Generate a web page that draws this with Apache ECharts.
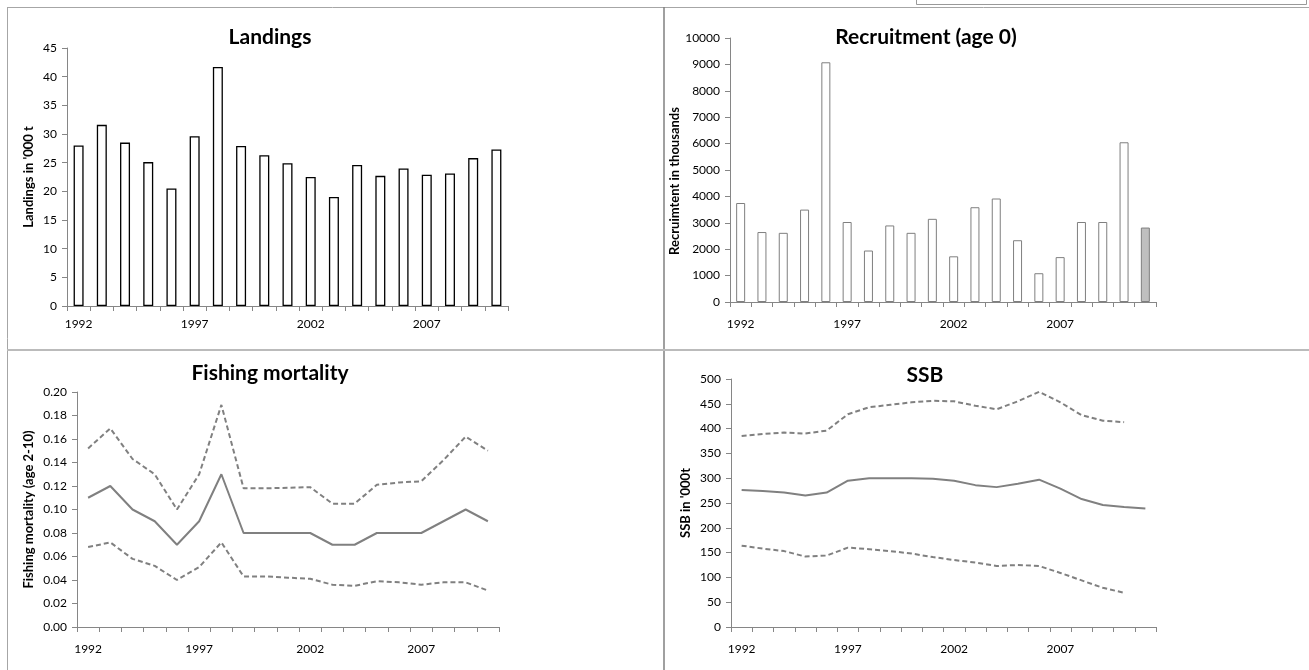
<!DOCTYPE html>
<html>
<head>
<meta charset="utf-8">
<script src="https://cdn.jsdelivr.net/npm/echarts@6/dist/echarts.min.js"></script>
<style>
  html, body { margin: 0; padding: 0; background: #fff; }
  #chart { width: 1309px; height: 670px; }
</style>
</head>
<body>
<div id="chart"></div>
<script>
// Stock summary: landings, recruitment, fishing mortality and SSB
const years19 = ['1992','1993','1994','1995','1996','1997','1998','1999','2000','2001',
                 '2002','2003','2004','2005','2006','2007','2008','2009','2010'];
const years20 = years19.concat(['2011']);

// Landings ('000 t)
const landings = [28.0, 31.6, 28.5, 25.1, 20.5, 29.6, 41.7, 27.9, 26.3, 24.9,
                  22.5, 19.0, 24.6, 22.7, 24.0, 22.9, 23.1, 25.8, 27.3];

// Recruitment at age 0 (thousands); the final year is an assumed value
const recruitment = [3750, 2650, 2620, 3500, 9080, 3030, 1950, 2900, 2620, 3150,
                     1730, 3590, 3920, 2340, 1090, 1700, 3030, 3030, 6050, 2820];

// Fishing mortality (age 2-10) with confidence bounds
const fMean  = [0.110, 0.120, 0.100, 0.090, 0.070, 0.090, 0.130, 0.080, 0.080, 0.080,
                0.080, 0.070, 0.070, 0.080, 0.080, 0.080, 0.090, 0.100, 0.090];
const fUpper = [0.152, 0.169, 0.143, 0.130, 0.100, 0.130, 0.189, 0.118, 0.118, 0.1185,
                0.119, 0.105, 0.105, 0.121, 0.123, 0.124, 0.142, 0.162, 0.150];
const fLower = [0.068, 0.072, 0.058, 0.052, 0.040, 0.051, 0.072, 0.043, 0.043, 0.042,
                0.041, 0.036, 0.035, 0.039, 0.038, 0.036, 0.038, 0.038, 0.031];

// Spawning stock biomass ('000 t) with confidence bounds
const ssbMean  = [276, 274, 271, 265, 271, 295, 300, 300, 300, 299,
                  295, 286, 282, 289, 297, 279, 258, 246, 242, 239];
const ssbUpper = [385, 389, 392, 390, 396, 429, 443, 448, 453, 456,
                  455, 446, 439, 455, 474, 453, 427, 416, 413];
const ssbLower = [164, 158, 153, 142, 144, 160, 157, 153, 148, 141,
                  135, 130, 123, 125, 123, 109, 94, 79, 69];

const FONT = 'Lato, "Open Sans", sans-serif';
const AXIS_GREY = '#868686';
const LINE_GREY = '#808080';

function xAxisFor(gridIndex, data, margin) {
  return {
    type: 'category', gridIndex: gridIndex, data: data, boundaryGap: true,
    axisLine: { show: true, lineStyle: { color: AXIS_GREY, width: 1 } },
    axisTick: { show: true, interval: 0, length: 5, lineStyle: { color: AXIS_GREY } },
    axisLabel: { interval: 4, color: '#000', fontSize: 12, fontFamily: FONT, margin: margin },
    splitLine: { show: false }
  };
}

function yAxisFor(gridIndex, max, interval, name, nameGap, formatter, namePadding) {
  return {
    type: 'value', gridIndex: gridIndex, min: 0, max: max, interval: interval,
    name: name, nameLocation: 'middle', nameGap: nameGap, nameRotate: 90,
    nameTextStyle: { color: '#000', fontSize: 13, fontWeight: 'bold', fontFamily: FONT,
                     padding: namePadding || 0 },
    axisLine: { show: true, lineStyle: { color: AXIS_GREY, width: 1 } },
    axisTick: { show: true, length: 5, lineStyle: { color: AXIS_GREY } },
    axisLabel: { color: '#000', fontSize: 12, fontFamily: FONT, margin: 10,
                 formatter: formatter || function (v) { return String(v); } },
    splitLine: { show: false }
  };
}

function title(text, cx, top) {
  return {
    text: text, left: cx, top: top, textAlign: 'center',
    textStyle: { fontSize: 21, fontWeight: 'bold', color: '#000', fontFamily: FONT }
  };
}

const solid = { color: LINE_GREY, width: 2, type: 'solid' };
const dashed = { color: LINE_GREY, width: 2, type: [5, 3] };

function lineSeries(idx, data, style) {
  return {
    type: 'line', xAxisIndex: idx, yAxisIndex: idx, data: data,
    showSymbol: false, symbol: 'none', lineStyle: style, silent: true, animation: false
  };
}

const recruitmentData = recruitment.map(function (v, i) {
  return i === recruitment.length - 1
    ? { value: v, itemStyle: { color: '#bfbfbf', borderColor: '#7f7f7f', borderWidth: 1 } }
    : v;
});

const chart = echarts.init(document.getElementById('chart'), null, { renderer: 'canvas' });

chart.setOption({
  backgroundColor: '#fff',
  animation: false,
  title: [
    title('Landings', 265, 22),
    title('Recruitment (age 0)', 921, 22),
    title('Fishing mortality', 265, 358),
    title('SSB', 920, 360)
  ],
  grid: [
    { left: 67,  top: 48,  width: 441, height: 258 },
    { left: 730, top: 38,  width: 426, height: 264 },
    { left: 77,  top: 392, width: 422, height: 235 },
    { left: 731, top: 379, width: 425, height: 248 }
  ],
  xAxis: [
    xAxisFor(0, years19, 12),
    xAxisFor(1, years20, 16),
    xAxisFor(2, years19, 16),
    xAxisFor(3, years20, 16)
  ],
  yAxis: [
    yAxisFor(0, 45, 5, "Landings in '000 t", 32),
    yAxisFor(1, 10000, 1000, 'Recruimtent in thousands', 45, null, [0, 22, 0, 0]),
    yAxisFor(2, 0.2, 0.02, 'Fishing mortality (age 2-10)', 42, function (v) { return v.toFixed(2); }),
    yAxisFor(3, 500, 50, "SSB in '000t", 39)
  ],
  series: [
    {
      type: 'bar', xAxisIndex: 0, yAxisIndex: 0, data: landings, barWidth: 10,
      itemStyle: { color: '#fff', borderColor: '#000', borderWidth: 1.3 }
    },
    {
      type: 'bar', xAxisIndex: 1, yAxisIndex: 1, data: recruitmentData, barWidth: 9,
      itemStyle: { color: '#fff', borderColor: '#7f7f7f', borderWidth: 1 }
    },
    lineSeries(2, fUpper, dashed),
    lineSeries(2, fMean, solid),
    lineSeries(2, fLower, dashed),
    lineSeries(3, ssbUpper, dashed),
    lineSeries(3, ssbMean, solid),
    lineSeries(3, ssbLower, dashed)
  ],
  graphic: [
    // panel frame
    { type: 'line', shape: { x1: 7, y1: 7.5, x2: 1309, y2: 7.5 }, style: { stroke: '#a6a6a6', lineWidth: 1 } },
    { type: 'line', shape: { x1: 7.5, y1: 7, x2: 7.5, y2: 670 }, style: { stroke: '#a6a6a6', lineWidth: 1 } },
    { type: 'line', shape: { x1: 664, y1: 7, x2: 664, y2: 670 }, style: { stroke: '#808080', lineWidth: 1.5 } },
    { type: 'line', shape: { x1: 7, y1: 350, x2: 1309, y2: 350 }, style: { stroke: '#bbbbbb', lineWidth: 2 } },
    // edge of the box sitting above the top-right panel
    { type: 'rect', shape: { x: 916.5, y: -10, width: 390, height: 14.5 }, style: { fill: '#fff', stroke: '#999999', lineWidth: 1 } }
  ]
});
</script>
</body>
</html>
